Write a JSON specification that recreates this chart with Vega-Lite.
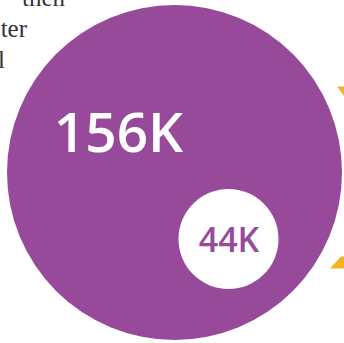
{
  "$schema": "https://vega.github.io/schema/vega-lite/v6.json",
  "width": 344,
  "height": 343,
  "autosize": "none",
  "padding": 0,
  "background": "white",
  "config": {"view": {"stroke": null}},
  "datasets": {
    "bubbles": [
      {"label": "156K", "value": 156000, "cx": 174.5, "cy": 172.5, "lx": 118.5, "ly": 152},
      {"label": "44K", "value": 44000, "cx": 228.5, "cy": 239, "lx": 229, "ly": 252}
    ],
    "arrows": [
      {"piece": "top", "px": 337, "py": 86.5, "py2": 86.5},
      {"piece": "top", "px": 344, "py": 86.5, "py2": 96},
      {"piece": "bottom", "px": 330, "py": 268.5, "py2": 268.5},
      {"piece": "bottom", "px": 341, "py": 256.5, "py2": 268.5},
      {"piece": "bottom", "px": 344, "py": 256.5, "py2": 268.5}
    ],
    "lines": [
      {"line": "then", "tx": 65, "ty": 6},
      {"line": "ter", "tx": 27, "ty": 37},
      {"line": "l", "tx": 5, "ty": 68}
    ]
  },
  "layer": [
    {
      "data": {"name": "arrows"},
      "mark": {"type": "area", "color": "#F2B31F", "orient": "vertical"},
      "encoding": {
        "x": {"field": "px", "type": "quantitative", "scale": {"domain": [0, 344]}, "axis": null},
        "y": {"field": "py", "type": "quantitative", "scale": {"domain": [343, 0]}, "axis": null},
        "y2": {"field": "py2"},
        "detail": {"field": "piece"}
      }
    },
    {
      "data": {"name": "bubbles"},
      "transform": [{"filter": "datum.label === '156K'"}],
      "mark": {"type": "point", "shape": "circle", "filled": true, "opacity": 1, "color": "#984A9A", "size": 112225},
      "encoding": {
        "x": {"field": "cx", "type": "quantitative", "scale": {"domain": [0, 344]}, "axis": null},
        "y": {"field": "cy", "type": "quantitative", "scale": {"domain": [343, 0]}, "axis": null}
      }
    },
    {
      "data": {"name": "bubbles"},
      "transform": [{"filter": "datum.label === '44K'"}],
      "mark": {"type": "point", "shape": "circle", "filled": true, "opacity": 1, "color": "#FFFFFF", "size": 10000},
      "encoding": {
        "x": {"field": "cx", "type": "quantitative", "scale": {"domain": [0, 344]}, "axis": null},
        "y": {"field": "cy", "type": "quantitative", "scale": {"domain": [343, 0]}, "axis": null}
      }
    },
    {
      "data": {"name": "bubbles"},
      "transform": [{"filter": "datum.label === '156K'"}],
      "mark": {"type": "text", "font": "Open Sans", "fontSize": 55, "fontWeight": 600, "color": "#FFFFFF", "align": "center", "baseline": "alphabetic"},
      "encoding": {
        "x": {"field": "lx", "type": "quantitative", "scale": {"domain": [0, 344]}, "axis": null},
        "y": {"field": "ly", "type": "quantitative", "scale": {"domain": [343, 0]}, "axis": null},
        "text": {"field": "label"}
      }
    },
    {
      "data": {"name": "bubbles"},
      "transform": [{"filter": "datum.label === '44K'"}],
      "mark": {"type": "text", "font": "Open Sans", "fontSize": 34, "fontWeight": 600, "color": "#984A9A", "align": "center", "baseline": "alphabetic"},
      "encoding": {
        "x": {"field": "lx", "type": "quantitative", "scale": {"domain": [0, 344]}, "axis": null},
        "y": {"field": "ly", "type": "quantitative", "scale": {"domain": [343, 0]}, "axis": null},
        "text": {"field": "label"}
      }
    },
    {
      "data": {"name": "lines"},
      "mark": {"type": "text", "font": "Liberation Serif", "fontSize": 25, "color": "#333333", "align": "right", "baseline": "alphabetic"},
      "encoding": {
        "x": {"field": "tx", "type": "quantitative", "scale": {"domain": [0, 344]}, "axis": null},
        "y": {"field": "ty", "type": "quantitative", "scale": {"domain": [343, 0]}, "axis": null},
        "text": {"field": "line"}
      }
    }
  ]
}
